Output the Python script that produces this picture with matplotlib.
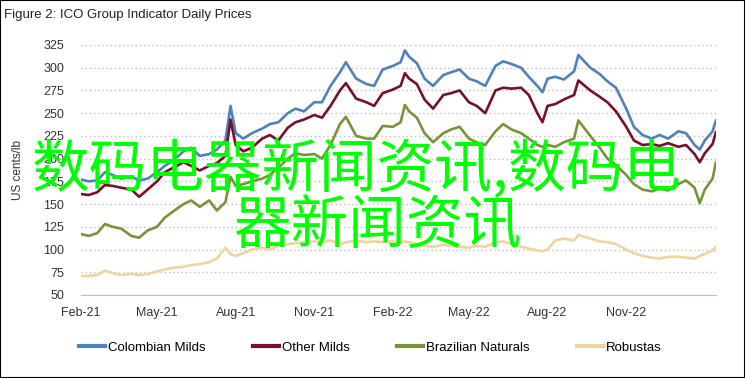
import matplotlib
matplotlib.use("Agg")
import matplotlib.pyplot as plt
import matplotlib.dates as mdates
from matplotlib import font_manager
from matplotlib.patches import Rectangle
import pandas as pd

dates = ['2021-02-01', '2021-02-10', '2021-02-20', '2021-03-01', '2021-03-10', '2021-03-20',
         '2021-04-01', '2021-04-10', '2021-04-20', '2021-05-01', '2021-05-10', '2021-05-20',
         '2021-06-01', '2021-06-10', '2021-06-20', '2021-07-01', '2021-07-10', '2021-07-20',
         '2021-07-26', '2021-08-01', '2021-08-10', '2021-08-20', '2021-09-01', '2021-09-10',
         '2021-09-20', '2021-10-01', '2021-10-10', '2021-10-20', '2021-11-01', '2021-11-10',
         '2021-11-20', '2021-12-01', '2021-12-08', '2021-12-20', '2022-01-01', '2022-01-10',
         '2022-01-20', '2022-02-01', '2022-02-10', '2022-02-15', '2022-02-20', '2022-03-01',
         '2022-03-10', '2022-03-20', '2022-04-01', '2022-04-10', '2022-04-20', '2022-05-01',
         '2022-05-10', '2022-05-20', '2022-06-01', '2022-06-10', '2022-06-20', '2022-07-01',
         '2022-07-10', '2022-07-20', '2022-07-26', '2022-08-01', '2022-08-10', '2022-08-20',
         '2022-09-01', '2022-09-06', '2022-09-20', '2022-10-01', '2022-10-10', '2022-10-20',
         '2022-11-01', '2022-11-10', '2022-11-20', '2022-12-01', '2022-12-10', '2022-12-20',
         '2023-01-01', '2023-01-10', '2023-01-20', '2023-01-26', '2023-02-01', '2023-02-10',
         '2023-02-14']

colombian = [177, 175, 176, 185, 182, 178, 180, 176, 178, 185, 192, 198,
             208, 212, 203, 205, 210, 220, 258, 228, 222, 228, 233, 238,
             240, 250, 255, 252, 262, 262, 280, 295, 306, 288,
             282, 280, 298, 302, 306, 319, 312, 305, 288, 280, 292, 295,
             298, 288, 285, 280, 302, 307, 304, 300, 290, 280, 273, 288,
             290, 287, 296, 314, 300, 293, 285, 278, 255, 235, 226, 222,
             226, 222, 230, 228, 215, 210, 220, 230, 242]

other = [161, 160, 163, 171, 170, 168, 166, 158, 166, 175, 185, 190,
         196, 192, 187, 192, 195, 203, 243, 215, 208, 212, 222, 226,
         220, 234, 240, 243, 248, 245, 258, 275, 283, 266,
         262, 258, 272, 276, 280, 294, 288, 282, 265, 255, 270, 272,
         275, 262, 258, 250, 275, 278, 277, 278, 270, 250, 240, 258,
         260, 265, 270, 286, 275, 268, 262, 252, 235, 220, 215, 216,
         214, 217, 213, 215, 205, 196, 206, 216, 229]

brazilian = [117, 115, 118, 128, 125, 123, 115, 113, 121, 125, 135, 142,
             150, 154, 147, 154, 143, 152, 180, 170, 172, 175, 178, 182,
             190, 200, 206, 204, 205, 200, 215, 238, 246, 225,
             222, 222, 236, 235, 240, 259, 252, 245, 228, 218, 228, 232,
             235, 222, 218, 215, 230, 238, 232, 228, 222, 215, 213, 215,
             213, 218, 222, 242, 225, 212, 200, 193, 182, 172, 166, 164,
             167, 165, 172, 176, 168, 151, 166, 178, 196]

robustas = [71, 71, 72, 77, 74, 72, 73, 72, 73, 76, 78, 80,
            81, 83, 84, 86, 90, 102, 95, 93, 96, 100, 102, 100,
            104, 106, 107, 108, 109, 108, 110, 106, 108, 110,
            108, 109, 108, 109, 108, 109, 108, 106, 104, 103, 105, 104,
            103, 102, 104, 103, 108, 109, 106, 103, 101, 99, 98, 100,
            110, 112, 110, 116, 112, 109, 108, 106, 100, 96, 93, 91,
            90, 92, 92, 91, 90, 93, 95, 99, 103]

series = ['Colombian Milds', 'Other Milds', 'Brazilian Naturals', 'Robustas']
colors = ['#4F81BD', '#76112A', '#77933C', '#EDD5A0']
yticks = list(range(50, 326, 25))
xtick_dates = ['2021-02-01', '2021-05-01', '2021-08-01', '2021-11-01',
               '2022-02-01', '2022-05-01', '2022-08-01', '2022-11-01']

names = {f.name for f in font_manager.fontManager.ttflist}
narrow = 'Liberation Sans Narrow' if 'Liberation Sans Narrow' in names else 'Liberation Sans'

x = pd.to_datetime(dates)

fig = plt.figure(figsize=(7.45, 3.78), dpi=100)
ax = fig.add_axes([0.1087, 0.2196, 0.8523, 0.6614])

for vals, name, c in zip([colombian, other, brazilian, robustas], series, colors):
    ax.plot(x, vals, color=c, lw=1.9, label=name, solid_joinstyle='round')

ax.set_ylim(50, 325)
ax.set_xlim(pd.Timestamp('2021-02-01'), pd.Timestamp('2023-02-14'))
ax.set_yticks(yticks)
ax.set_xticks(pd.to_datetime(xtick_dates))
ax.xaxis.set_major_formatter(mdates.DateFormatter('%b-%y'))
ax.grid(axis='y', color='#BFBFBF', linestyle=(0, (1, 2)), linewidth=1)
for s in ['top', 'right', 'left']:
    ax.spines[s].set_visible(False)
ax.spines['bottom'].set_color('#BFBFBF')
ax.tick_params(length=0, labelsize=9, colors='#333333')
ax.tick_params(axis='y', pad=12)
ax.tick_params(axis='x', pad=9)
for lab in ax.get_xticklabels() + ax.get_yticklabels():
    lab.set_fontfamily(narrow)
ax.set_axisbelow(True)

ax.set_ylabel('US cents/lb', fontsize=8.5, color='#333333', family=narrow, labelpad=14)

fig.text(0.006, 0.975, 'Figure 2: ICO Group Indicator Daily Prices', fontsize=9.5,
         family='Liberation Sans', va='top', ha='left', color='#222222')

leg = fig.legend(loc='center', bbox_to_anchor=(0.497, 0.08), ncol=4, frameon=False,
                 prop={'family': narrow, 'size': 9.5}, handlelength=2.0,
                 handletextpad=0.2, columnspacing=3.6)
for h in leg.get_lines():
    h.set_linewidth(3)

fig.text(32 / 745, 1 - 170 / 378, '数码电器新闻资讯,数码电', fontsize=41.5,
         family=['Noto Sans CJK SC', 'DejaVu Sans'], color='#00FF00',
         ha='left', va='center')
fig.text(233 / 745, 1 - 227 / 378, '器新闻资讯', fontsize=41.5,
         family=['Noto Sans CJK SC', 'DejaVu Sans'], color='#00FF00',
         ha='left', va='center')

fig.patches.append(Rectangle((0, 0), 1, 1, transform=fig.transFigure, fill=False,
                             edgecolor='black', linewidth=1.5))

fig.savefig('out.png', dpi=100)
